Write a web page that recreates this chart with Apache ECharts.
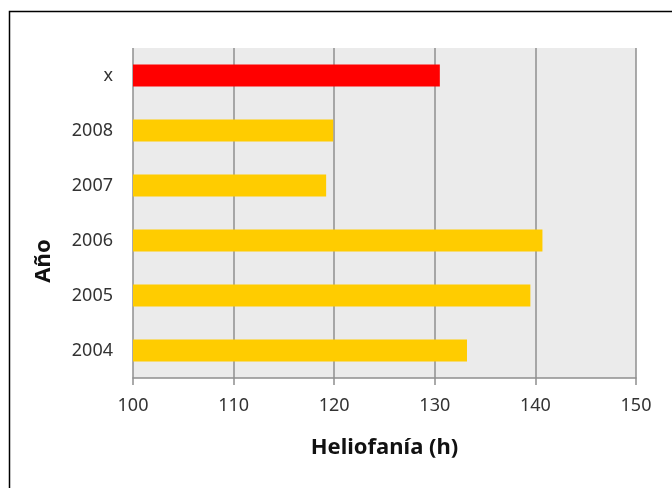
<!DOCTYPE html>
<html>
<head>
<meta charset="utf-8">
<script src="https://cdn.jsdelivr.net/npm/echarts@6/dist/echarts.min.js"></script>
<style>
  html, body { margin: 0; padding: 0; background: #ffffff; }
  #chart { width: 672px; height: 488px; }
</style>
</head>
<body>
<div id="chart"></div>
<script>
// Years shown on the vertical axis (bottom to top)
const years = ['2004', '2005', '2006', '2007', '2008', 'x'];
// Sunshine hours per year; the last entry is the mean ("x")
const hours = [133.2, 139.5, 140.7, 119.2, 119.9, 130.5];
const barColors = ['#FFCC00', '#FFCC00', '#FFCC00', '#FFCC00', '#FFCC00', '#FF0000'];
const xTicks = [100, 110, 120, 130, 140, 150];

const chart = echarts.init(document.getElementById('chart'), null, { renderer: 'canvas' });

const gridLine = '#8f8f8f';
const font = 'Noto Sans';

chart.setOption({
  animation: false,
  backgroundColor: '#ffffff',
  grid: {
    left: 133, right: 36, top: 48, bottom: 110,
    show: true, backgroundColor: '#EBEBEB', borderWidth: 0
  },
  xAxis: {
    type: 'value',
    min: xTicks[0],
    max: xTicks[xTicks.length - 1],
    interval: 10,
    name: 'Heliofanía (h)',
    nameLocation: 'middle',
    nameGap: 59,
    nameTextStyle: { fontFamily: font, fontSize: 22, fontWeight: 'bold', color: '#111' },
    axisLine: { show: true, lineStyle: { color: gridLine, width: 1.5 } },
    axisTick: { show: true, length: 7, lineStyle: { color: gridLine, width: 1.5 } },
    axisLabel: { fontFamily: font, fontSize: 18, color: '#333', margin: 19 },
    splitLine: { show: true, lineStyle: { color: gridLine, width: 1.5 } }
  },
  yAxis: {
    type: 'category',
    data: years,
    axisLine: { show: false },
    axisTick: { show: false },
    axisLabel: { fontFamily: font, fontSize: 18, color: '#333', margin: 20 },
    splitLine: { show: false }
  },
  series: [{
    type: 'bar',
    data: hours.map((v, i) => ({ value: v, itemStyle: { color: barColors[i] } })),
    barWidth: 22
  }],
  graphic: [
    {
      type: 'rect',
      shape: { x: 9.5, y: 11.5, width: 700, height: 500 },
      style: { fill: 'none', stroke: '#000', lineWidth: 1.5 },
      silent: true
    },
    {
      type: 'text',
      x: 44, y: 261,
      rotation: Math.PI / 2,
      style: {
        text: 'Año',
        fontFamily: font, fontSize: 22, fontWeight: 'bold',
        fill: '#111', align: 'center', verticalAlign: 'middle'
      }
    }
  ]
});
</script>
</body>
</html>
